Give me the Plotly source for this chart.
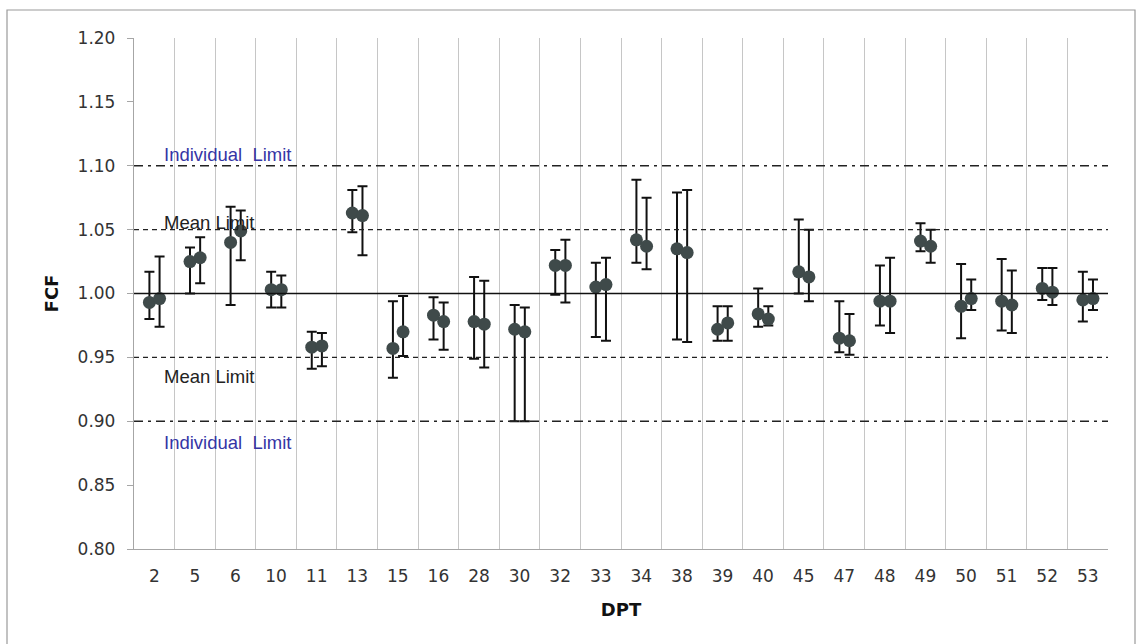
import plotly.graph_objects as go

# Departments along the x axis
dpt = [2, 5, 6, 10, 11, 13, 15, 16, 28, 30, 32, 33, 34, 38, 39, 40, 45, 47, 48, 49, 50, 51, 52, 53]

# First measurement series: FCF value with upper / lower error bounds
fcf_a = [0.993, 1.025, 1.040, 1.003, 0.958, 1.063, 0.957, 0.983, 0.978, 0.972, 1.022, 1.005,
         1.042, 1.035, 0.972, 0.984, 1.017, 0.965, 0.994, 1.041, 0.990, 0.994, 1.004, 0.995]
fcf_a_hi = [1.017, 1.036, 1.068, 1.017, 0.970, 1.081, 0.994, 0.997, 1.013, 0.991, 1.034, 1.024,
            1.089, 1.079, 0.990, 1.004, 1.058, 0.994, 1.022, 1.055, 1.023, 1.027, 1.020, 1.017]
fcf_a_lo = [0.980, 1.000, 0.991, 0.989, 0.941, 1.048, 0.934, 0.964, 0.949, 0.900, 0.999, 0.966,
            1.024, 0.964, 0.963, 0.974, 1.000, 0.954, 0.975, 1.033, 0.965, 0.971, 0.995, 0.978]

# Second measurement series
fcf_b = [0.996, 1.028, 1.049, 1.003, 0.959, 1.061, 0.970, 0.978, 0.976, 0.970, 1.022, 1.007,
         1.037, 1.032, 0.977, 0.980, 1.013, 0.963, 0.994, 1.037, 0.996, 0.991, 1.001, 0.996]
fcf_b_hi = [1.029, 1.044, 1.065, 1.014, 0.969, 1.084, 0.998, 0.993, 1.010, 0.989, 1.042, 1.028,
            1.075, 1.081, 0.990, 0.990, 1.050, 0.984, 1.028, 1.050, 1.011, 1.018, 1.020, 1.011]
fcf_b_lo = [0.974, 1.008, 1.026, 0.989, 0.943, 1.030, 0.951, 0.956, 0.942, 0.900, 0.993, 0.963,
            1.019, 0.962, 0.963, 0.975, 0.994, 0.952, 0.969, 1.024, 0.987, 0.969, 0.991, 0.987]

# Acceptance limits
individual_limits = [0.90, 1.10]
mean_limits = [0.95, 1.05]
nominal = 1.00

centers = [i + 0.5 for i in range(len(dpt))]
marker_color = "#3f4a4a"

fig = go.Figure()
for vals, hi, lo, off in [(fcf_a, fcf_a_hi, fcf_a_lo, -0.12),
                          (fcf_b, fcf_b_hi, fcf_b_lo, 0.13)]:
    fig.add_trace(go.Scatter(
        x=[c + off for c in centers],
        y=vals,
        mode="markers",
        marker=dict(size=13, color=marker_color),
        error_y=dict(
            type="data", symmetric=False,
            array=[h - v for h, v in zip(hi, vals)],
            arrayminus=[v - l for v, l in zip(vals, lo)],
            color="#111111", thickness=2, width=5,
        ),
        showlegend=False,
        hoverinfo="skip",
    ))

shapes = []
for lim in individual_limits:
    shapes.append(dict(type="line", xref="paper", yref="y", x0=0, x1=1, y0=lim, y1=lim,
                       line=dict(color="#222222", width=1.4, dash="9px,5px,3px,5px")))
for lim in mean_limits:
    shapes.append(dict(type="line", xref="paper", yref="y", x0=0, x1=1, y0=lim, y1=lim,
                       line=dict(color="#222222", width=1.4, dash="5px,4px")))
shapes.append(dict(type="line", xref="paper", yref="y", x0=0, x1=1, y0=nominal, y1=nominal,
                   line=dict(color="#111111", width=1.6)))

# Outer frame around the whole chart
W, H = 1137, 644
ml, mr, mt, mb = 134, 29, 38, 95
pw, ph = W - ml - mr, H - mt - mb
shapes.append(dict(type="rect", xref="paper", yref="paper", layer="below",
                   x0=(7 - ml) / pw, x1=(1135 - ml) / pw,
                   y0=(H - mb - 660) / ph, y1=(H - mb - 10) / ph,
                   line=dict(color="#9a9a9a", width=1.2)))

label_font = dict(family="Liberation Sans, Arial, sans-serif", size=18.5)
annotations = [
    dict(x=0.68, y=1.1085, text="Individual  Limit", font=dict(color="#3535a5", **label_font)),
    dict(x=0.68, y=1.0553, text="Mean Limit", font=dict(color="#222222", **label_font)),
    dict(x=0.68, y=0.9348, text="Mean Limit", font=dict(color="#222222", **label_font)),
    dict(x=0.68, y=0.8832, text="Individual  Limit", font=dict(color="#3535a5", **label_font)),
]
for a in annotations:
    a.update(xref="x", yref="y", xanchor="left", yanchor="middle", showarrow=False)

tick_font = dict(family="DejaVu Sans, Verdana, sans-serif", size=17, color="#333333")
title_font = dict(family="DejaVu Sans, Verdana, sans-serif", size=18, color="#111111")

fig.update_layout(
    width=W, height=H,
    margin=dict(l=ml, r=mr, t=mt, b=mb, pad=0),
    paper_bgcolor="white", plot_bgcolor="white",
    shapes=shapes, annotations=annotations,
    xaxis=dict(
        range=[0, len(dpt)],
        tickmode="array", tickvals=centers, ticktext=[str(d) for d in dpt],
        showgrid=False, zeroline=False,
        showline=True, linecolor="#a6a6a6", linewidth=1.3,
        ticks="", tickfont=tick_font, ticklabelstandoff=11,
        minor=dict(tick0=0, dtick=1, showgrid=True, gridcolor="#c6c6c6", gridwidth=1.3, ticks=""),
        title=dict(text="<b>DPT</b>", font=title_font, standoff=18),
    ),
    yaxis=dict(
        range=[0.80, 1.20], tick0=0.80, dtick=0.05, tickformat=".2f",
        showgrid=False, zeroline=False,
        showline=True, linecolor="#a6a6a6", linewidth=1.3,
        ticks="outside", ticklen=6, tickcolor="#a6a6a6", tickwidth=1.3,
        tickfont=tick_font, ticklabelstandoff=8,
        title=dict(text="<b>FCF</b>", font=title_font, standoff=14),
    ),
)

fig.write_html("out.html")
